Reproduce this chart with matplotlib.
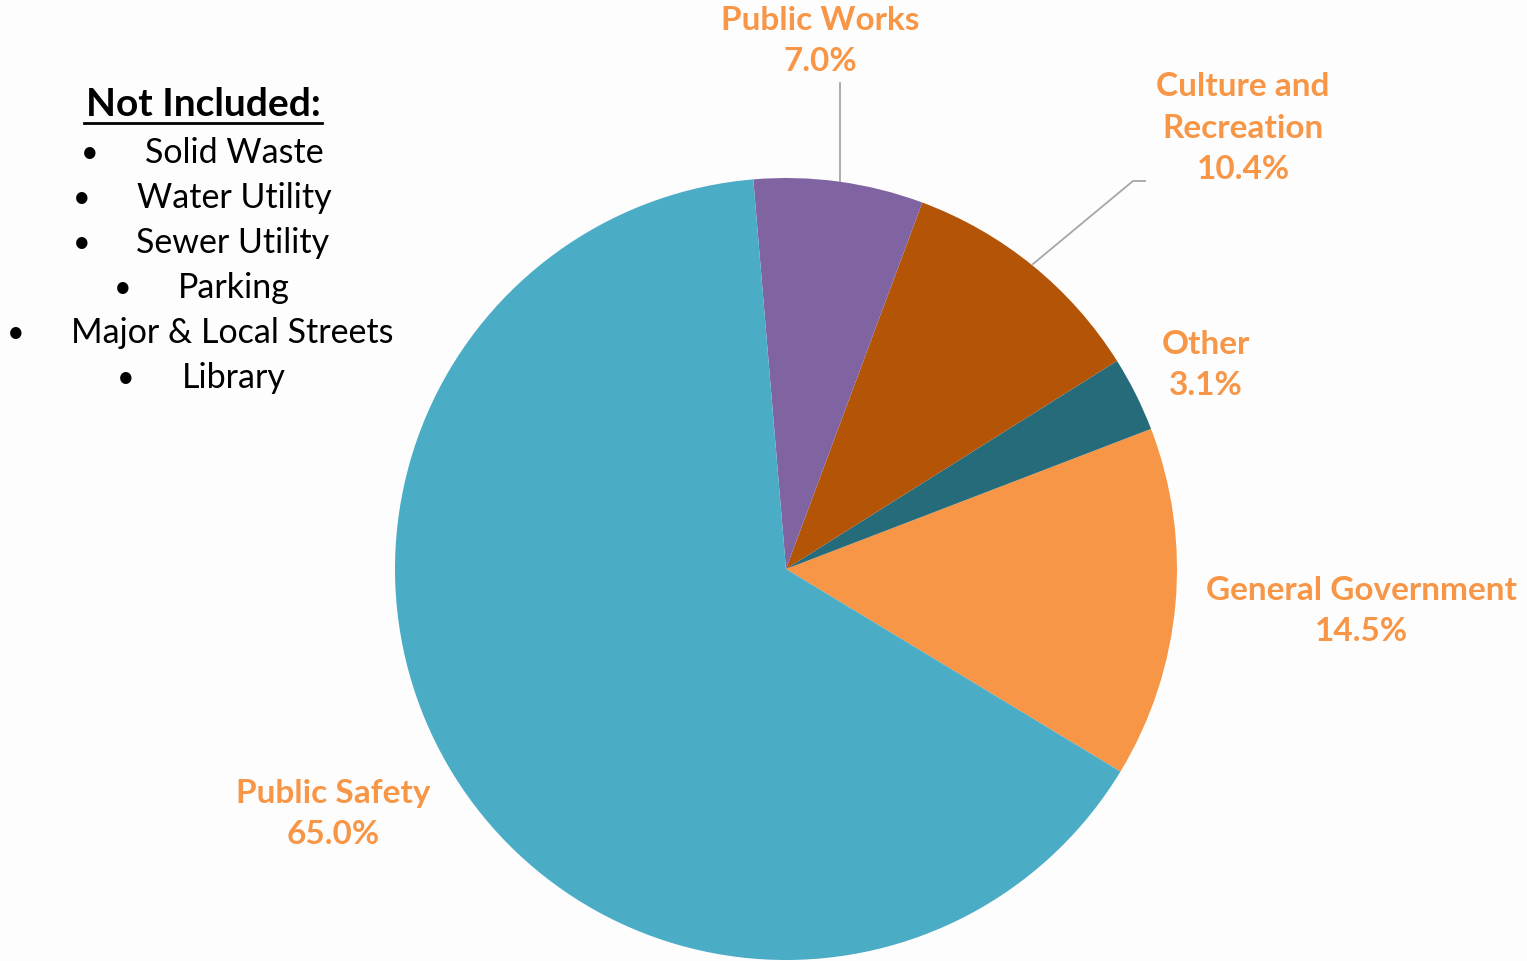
import matplotlib.pyplot as plt

# slice data, counter-clockwise starting from General Government
categories = ["General Government", "Other", "Culture and\nRecreation", "Public Works", "Public Safety"]
shares = [14.5, 3.1, 10.4, 7.0, 65.0]
colors = ["#F79646", "#256B7A", "#B35407", "#8064A2", "#4BACC6"]

not_included = ["Solid Waste", "Water Utility", "Sewer Utility", "Parking",
                "Major & Local Streets", "Library"]

W, H = 1527, 962
fig = plt.figure(figsize=(W / 100, H / 100), dpi=100)
fig.patch.set_facecolor("#FDFDFD")
ax = fig.add_axes([0, 0, 1, 1])

cx, cy, r = 786, H - 570, 391
ax.pie(shares, colors=colors, startangle=-31.2, counterclock=True,
       center=(cx, cy), radius=r, frame=True,
       wedgeprops=dict(linewidth=0))
ax.set_xlim(0, W)
ax.set_ylim(0, H)
ax.set_aspect("equal")
ax.axis("off")

lab_font = dict(family="Lato", weight="bold", size=24, color="#F79646",
                ha="center", va="center")
# label positions in pixels (x, y from top)
label_pos = [(1361, 611), (1206, 365), (1243, 128), (820, 41), (333, 814)]
for name, val, (x, y) in zip(categories, shares, label_pos):
    ax.text(x, H - y, f"{name}\n{val:.1f}%", linespacing=1.52, **lab_font)

# leader lines
ax.plot([840, 840], [H - 84, H - 182], color="#A6A6A6", lw=1.3)
ax.plot([1145, 1133, 1033], [H - 182, H - 182, H - 265], color="#A6A6A6", lw=1.3)

# "Not Included" box
ax.text(203, H - 105, "Not Included:", family="Lato", weight="bold", size=28,
        ha="center", va="center", color="black")
ax.plot([84, 322], [H - 124, H - 124], color="black", lw=2)
bullet_x = [90, 82, 82, 123, 16, 126]
text_x = [145, 137, 136, 178, 71, 182]
for i, (item, bx, tx) in enumerate(zip(not_included, bullet_x, text_x)):
    y = H - (153 + 45 * i)
    ax.text(bx, y, "\u2022", family="Lato", size=22, ha="center", va="center")
    ax.text(tx, y, item, family="Lato", size=24.5, ha="left", va="center")

fig.savefig("out.png", dpi=100, facecolor=fig.get_facecolor())
